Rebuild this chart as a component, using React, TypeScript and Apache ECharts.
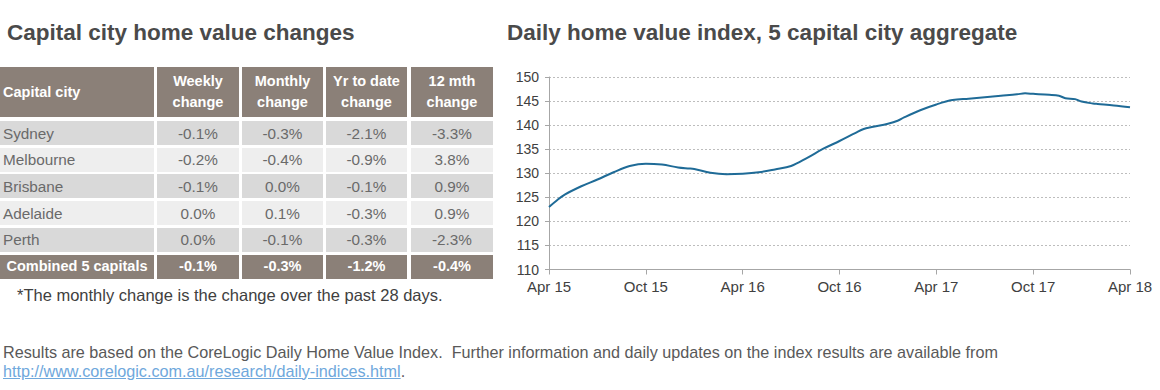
import React, { useEffect, useRef } from "react";
import * as echarts from "echarts";

// ---- Table data ----
const tableTitle = "Capital city home value changes";
const headerLabels = ["Capital city", "Weekly\nchange", "Monthly\nchange", "Yr to date\nchange", "12 mth\nchange"];
const cities = ["Sydney", "Melbourne", "Brisbane", "Adelaide", "Perth"];
const weeklyChange = ["-0.1%", "-0.2%", "-0.1%", "0.0%", "0.0%"];
const monthlyChange = ["-0.3%", "-0.4%", "0.0%", "0.1%", "-0.1%"];
const ytdChange = ["-2.1%", "-0.9%", "-0.1%", "-0.3%", "-0.3%"];
const yearChange = ["-3.3%", "3.8%", "0.9%", "0.9%", "-2.3%"];
const combinedLabel = "Combined 5 capitals";
const combinedValues = ["-0.1%", "-0.3%", "-1.2%", "-0.4%"];
const footnote = "*The monthly change is the change over the past 28 days.";

// ---- Chart data ----
const chartTitle = "Daily home value index, 5 capital city aggregate";
const xTickLabels = ["Apr 15", "Oct 15", "Apr 16", "Oct 16", "Apr 17", "Oct 17", "Apr 18"];
// months elapsed since April 2015
const monthsSinceApr15 = [
  0, 0.5, 1, 2, 3, 4, 5, 6, 7, 8, 8.6, 9, 10, 11, 12, 13, 14, 15, 16, 17, 18, 19, 19.5, 20, 21, 21.6, 22, 23, 24,
  25, 26, 27, 28, 29, 29.5, 30, 31, 31.6, 32, 32.6, 33, 33.7, 34, 35, 36,
];
const indexValues = [
  123.0, 124.4, 125.6, 127.3, 128.7, 130.2, 131.5, 132.0, 131.8, 131.2, 131.0, 130.9, 130.1, 129.8, 129.9, 130.2,
  130.8, 131.5, 133.2, 135.1, 136.7, 138.4, 139.2, 139.6, 140.3, 140.9, 141.6, 143.1, 144.3, 145.2, 145.5, 145.8,
  146.1, 146.4, 146.6, 146.5, 146.3, 146.1, 145.6, 145.4, 144.9, 144.5, 144.4, 144.1, 143.7,
];

const footerText =
  "Results are based on the CoreLogic Daily Home Value Index.  Further information and daily updates on the index results are available from";
const footerLink = "http://www.corelogic.com.au/research/daily-indices.html";

const FONT = "'Liberation Sans', Arial, Helvetica, sans-serif";
const HEADER_BG = "#8b8078";
const ROW_DARK = "#d9d9d9";
const ROW_LIGHT = "#eeeeee";
const CELL_TEXT = "#6a6a6a";

const colLeft = [0, 157, 242, 326, 411];
const colWidth = [154, 82, 81, 81, 82];
const rowTop = [121, 147.7, 174.4, 201.1, 227.8];
const combinedTop = 254.5;
const rowHeight = 24;

function Cell(props: {
  left: number;
  top: number;
  width: number;
  height: number;
  bg: string;
  color: string;
  bold?: boolean;
  align?: "left" | "center";
  size?: number;
  children: React.ReactNode;
}) {
  const { left, top, width, height, bg, color, bold, align, size } = props;
  return (
    <div
      style={{
        position: "absolute",
        left,
        top,
        width,
        height,
        background: bg,
        color,
        fontWeight: bold ? "bold" : "normal",
        fontSize: size ?? 15.3,
        fontFamily: FONT,
        display: "flex",
        alignItems: "center",
        justifyContent: align === "left" ? "flex-start" : "center",
        textAlign: align === "left" ? "left" : "center",
        paddingLeft: align === "left" ? 3 : 0,
        boxSizing: "border-box",
        lineHeight: "21px",
        whiteSpace: "pre",
      }}
    >
      {props.children}
    </div>
  );
}

export default function App() {
  const ref = useRef<HTMLDivElement>(null);

  useEffect(() => {
    if (!ref.current) return;
    const chart = echarts.init(ref.current, undefined, { renderer: "svg" });
    const data = monthsSinceApr15.map((m, i) => [m, indexValues[i]]);
    chart.setOption({
      animation: false,
      title: {
        text: chartTitle,
        left: 12,
        top: 16,
        textStyle: { fontFamily: FONT, fontSize: 22.5, fontWeight: "bold", color: "#4a4a4a" },
      },
      grid: { left: 59, top: 77, width: 581, height: 192.5, containLabel: false },
      xAxis: {
        type: "value",
        min: 0,
        max: 36,
        interval: 6,
        axisLine: { show: true, lineStyle: { color: "#a6a6a6", width: 1 } },
        axisTick: { show: true, length: 5, lineStyle: { color: "#a6a6a6" } },
        splitLine: { show: false },
        axisLabel: {
          margin: 9,
          fontFamily: FONT,
          fontSize: 15,
          color: "#404040",
          formatter: (v: number) => xTickLabels[Math.round(v / 6)] ?? "",
        },
      },
      yAxis: {
        type: "value",
        min: 110,
        max: 150,
        interval: 5,
        axisLine: { show: true, lineStyle: { color: "#a6a6a6", width: 1 } },
        axisTick: { show: true, length: 4, lineStyle: { color: "#a6a6a6" } },
        splitLine: { show: true, lineStyle: { color: "#bdbdbd", type: [2, 2], width: 1 } },
        axisLabel: { margin: 10, fontFamily: FONT, fontSize: 14, color: "#404040" },
      },
      series: [
        {
          type: "line",
          data,
          showSymbol: false,
          smooth: 0.35,
          lineStyle: { color: "#1f6b97", width: 2 },
        },
      ],
    });
    return () => chart.dispose();
  }, []);

  const valueCols = [weeklyChange, monthlyChange, ytdChange, yearChange];

  return (
    <div
      style={{
        position: "fixed",
        left: 0,
        top: 0,
        width: 1160,
        height: 390,
        background: "#ffffff",
        overflow: "hidden",
        fontFamily: FONT,
      }}
    >
      <div
        style={{
          position: "absolute",
          left: 7,
          top: 20,
          fontSize: 22.5,
          fontWeight: "bold",
          color: "#4a4a4a",
          lineHeight: "26px",
          whiteSpace: "nowrap",
        }}
      >
        {tableTitle}
      </div>

      {headerLabels.map((h, c) => (
        <Cell
          key={"h" + c}
          left={colLeft[c]}
          top={67}
          width={colWidth[c]}
          height={50}
          bg={HEADER_BG}
          color="#ffffff"
          bold
          size={14.5}
          align={c === 0 ? "left" : "center"}
        >
          {h}
        </Cell>
      ))}

      {cities.map((city, r) => (
        <React.Fragment key={city}>
          <Cell
            left={colLeft[0]}
            top={rowTop[r]}
            width={colWidth[0]}
            height={rowHeight}
            bg={r % 2 === 0 ? ROW_DARK : ROW_LIGHT}
            color={CELL_TEXT}
            align="left"
          >
            {city}
          </Cell>
          {valueCols.map((col, c) => (
            <Cell
              key={city + c}
              left={colLeft[c + 1]}
              top={rowTop[r]}
              width={colWidth[c + 1]}
              height={rowHeight}
              bg={r % 2 === 0 ? ROW_DARK : ROW_LIGHT}
              color={CELL_TEXT}
            >
              {col[r]}
            </Cell>
          ))}
        </React.Fragment>
      ))}

      <Cell
        left={colLeft[0]}
        top={combinedTop}
        width={colWidth[0]}
        height={rowHeight}
        bg={HEADER_BG}
        color="#ffffff"
        bold
        size={14.5}
      >
        {combinedLabel}
      </Cell>
      {combinedValues.map((v, c) => (
        <Cell
          key={"cv" + c}
          left={colLeft[c + 1]}
          top={combinedTop}
          width={colWidth[c + 1]}
          height={rowHeight}
          bg={HEADER_BG}
          color="#ffffff"
          bold
          size={14.5}
        >
          {v}
        </Cell>
      ))}

      <div
        style={{
          position: "absolute",
          left: 17,
          top: 286,
          fontSize: 16.5,
          color: "#404040",
          lineHeight: "18px",
          whiteSpace: "nowrap",
        }}
      >
        {footnote}
      </div>

      <div ref={ref} style={{ position: "absolute", left: 490, top: 0, width: 670, height: 310 }} />

      <div
        style={{
          position: "absolute",
          left: 3,
          top: 343,
          fontSize: 16.2,
          color: "#595959",
          lineHeight: "18.5px",
          whiteSpace: "pre",
        }}
      >
        <div>{footerText}</div>
        <div>
          <span style={{ color: "#6fa8dc", textDecoration: "underline" }}>{footerLink}</span>.
        </div>
      </div>
    </div>
  );
}
